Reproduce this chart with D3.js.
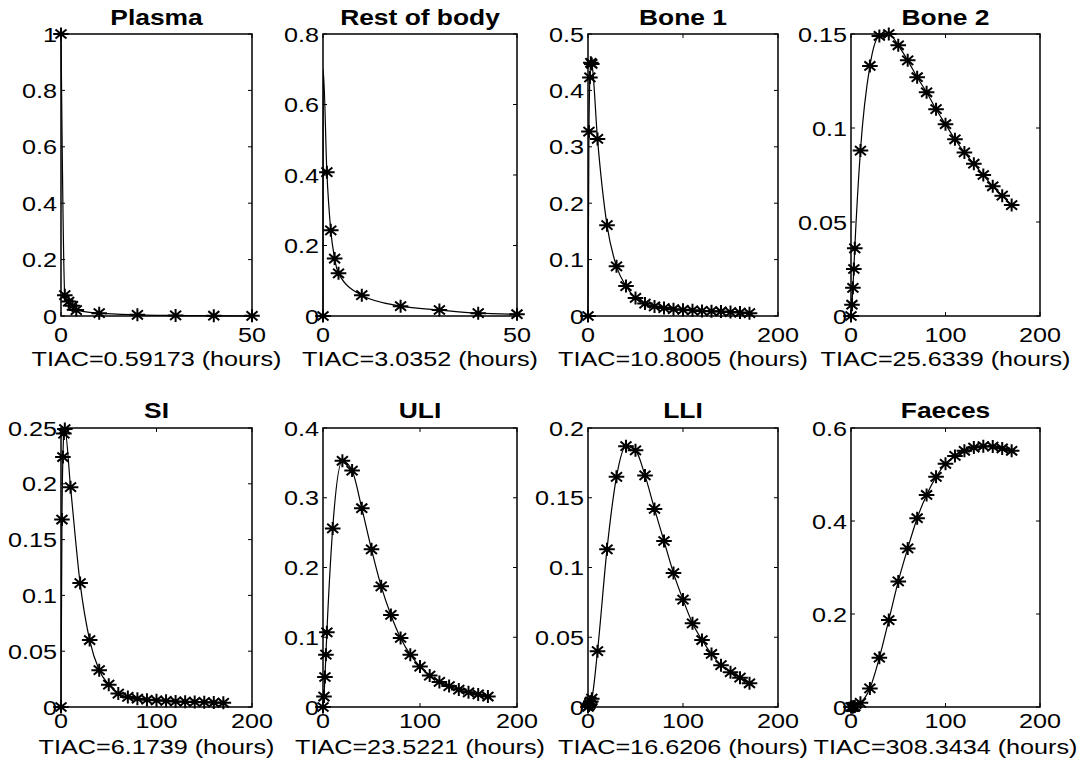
<!DOCTYPE html>
<html lang="en">
<head>
<meta charset="UTF-8">
<title>TIAC</title>
<script src="https://cdn.jsdelivr.net/npm/d3@7"></script>
<style>
    body { margin: 0; background: #fff; }
    text { font-family: "Liberation Sans", Arial, sans-serif; fill: #000; }
</style>
</head>
<body>
<script type="text/javascript">
    var width = 1090;
    var height = 770;

    // sample times (hours)
    var timesShort = [0, 1, 2, 3, 4, 10, 20, 30, 40, 50];
    var timesLong = [0, 1, 2, 3, 4, 10, 20, 30, 40, 50, 60, 70, 80, 90, 100, 110, 120, 130, 140, 150, 160, 170];

    var titles = ["Plasma", "Rest of body", "Bone 1", "Bone 2", "SI", "ULI", "LLI", "Faeces"];
    var tiacLabels = ["TIAC=0.59173 (hours)", "TIAC=3.0352 (hours)", "TIAC=10.8005 (hours)", "TIAC=25.6339 (hours)",
        "TIAC=6.1739 (hours)", "TIAC=23.5221 (hours)", "TIAC=16.6206 (hours)", "TIAC=308.3434 (hours)"];

    var plasma = [1, 0.074, 0.051, 0.036, 0.021, 0.010, 0.004, 0.002, 0.001, 0.0005];
    var restOfBody = [0, 0.408, 0.243, 0.163, 0.121, 0.059, 0.028, 0.017, 0.008, 0.005];
    // the solver curve peaks just after t=0, before the first marker
    var restOfBodyPeak = [0.05, 0.7];
    var bone1 = [0, 0.327, 0.423, 0.449, 0.447, 0.314, 0.161, 0.088, 0.053, 0.032, 0.022, 0.017, 0.014,
        0.012, 0.011, 0.010, 0.009, 0.0085, 0.008, 0.007, 0.006, 0.005];
    var bone2 = [0, 0.006, 0.015, 0.025, 0.036, 0.088, 0.133, 0.149, 0.150, 0.144, 0.136, 0.127, 0.119,
        0.110, 0.102, 0.094, 0.087, 0.081, 0.075, 0.069, 0.064, 0.059];
    var si = [0, 0.168, 0.224, 0.245, 0.249, 0.197, 0.111, 0.060, 0.033, 0.020, 0.012, 0.009, 0.0075,
        0.0065, 0.006, 0.0055, 0.005, 0.0048, 0.0045, 0.0043, 0.004, 0.0038];
    var uli = [0, 0.015, 0.043, 0.075, 0.107, 0.256, 0.353, 0.339, 0.285, 0.226, 0.173, 0.132, 0.099,
        0.075, 0.058, 0.045, 0.036, 0.030, 0.025, 0.021, 0.018, 0.015];
    var lli = [0, 0.001, 0.002, 0.004, 0.006, 0.040, 0.113, 0.165, 0.187, 0.184, 0.166, 0.142, 0.119,
        0.096, 0.077, 0.060, 0.048, 0.038, 0.030, 0.025, 0.021, 0.017];
    var faeces = [0, 0, 0, 0.0005, 0.001, 0.009, 0.040, 0.106, 0.187, 0.270, 0.341, 0.406, 0.456,
        0.495, 0.523, 0.540, 0.551, 0.558, 0.561, 0.560, 0.556, 0.551];

    var yMax = [1, 0.8, 0.5, 0.15, 0.25, 0.4, 0.2, 0.6];
    var yTicks = [
        [0, 0.2, 0.4, 0.6, 0.8, 1],
        [0, 0.2, 0.4, 0.6, 0.8],
        [0, 0.1, 0.2, 0.3, 0.4, 0.5],
        [0, 0.05, 0.1, 0.15],
        [0, 0.05, 0.1, 0.15, 0.2, 0.25],
        [0, 0.1, 0.2, 0.3, 0.4],
        [0, 0.05, 0.1, 0.15, 0.2],
        [0, 0.2, 0.4, 0.6]
    ];
    var xMax = [50, 50, 200, 200, 200, 200, 200, 200];
    var xTicksShort = [0, 50];
    var xTicksLong = [0, 100, 200];

    var series = [plasma, restOfBody, bone1, bone2, si, uli, lli, faeces];

    // layout of the 2 x 4 grid
    var colLeft = [61, 323, 588, 851];
    var colRight = [252, 517, 778, 1040];
    var rowTop = [34, 428];
    var rowBottom = [316, 707];
    var titleBase = [25, 418];
    var xLabelBase = [342, 728];
    var tiacBase = [366, 754];
    var stretch = 1.2;   // the picture's text is widened horizontally
    var tickLen = 4;

    var svg = d3.select('body').append('svg')
            .attr('width', width)
            .attr('height', height);

    function label(g, x, y, str, anchor, size, weight) {
        return g.append('text')
                .attr('transform', 'translate(' + x + ',' + y + ') scale(' + stretch + ',1)')
                .attr('text-anchor', anchor)
                .attr('font-size', size)
                .attr('font-weight', weight || 'normal')
                .text(str);
    }

    var fmt = d3.format('~g');
    var star = 'M-7.8,0H7.8M0,-6.5V6.5M-5.5,-4.6L5.5,4.6M-5.5,4.6L5.5,-4.6';

    series.forEach(function (vals, i) {
        var col = i % 4, row = Math.floor(i / 4);
        var times = xMax[i] === 50 ? timesShort : timesLong;
        var xTicks = xMax[i] === 50 ? xTicksShort : xTicksLong;
        var x0 = colLeft[col], x1 = colRight[col];
        var y0 = rowBottom[row], y1 = rowTop[row];

        var x = d3.scaleLinear().domain([0, xMax[i]]).range([x0, x1]);
        var y = d3.scaleLinear().domain([0, yMax[i]]).range([y0, y1]);

        var g = svg.append('g');

        var pts = times.map(function (t, k) { return [t, vals[k]]; });
        var linePts = pts.slice();
        if (vals === restOfBody) {
            linePts.splice(1, 0, restOfBodyPeak);
        }

        // box
        g.append('rect')
                .attr('x', x0).attr('y', y1)
                .attr('width', x1 - x0).attr('height', y0 - y1)
                .attr('fill', 'none')
                .attr('stroke', '#000')
                .attr('stroke-width', 1.5);

        // y ticks, both sides, pointing in
        yTicks[i].forEach(function (v) {
            var yy = y(v);
            g.append('line').attr('x1', x0).attr('x2', x0 + tickLen).attr('y1', yy).attr('y2', yy)
                    .attr('stroke', '#000').attr('stroke-width', 1);
            g.append('line').attr('x1', x1).attr('x2', x1 - tickLen).attr('y1', yy).attr('y2', yy)
                    .attr('stroke', '#000').attr('stroke-width', 1);
            label(g, x0 - 4, yy + 7.5, fmt(v), 'end', 21);
        });

        // x ticks, top and bottom
        xTicks.forEach(function (v) {
            var xx = x(v);
            g.append('line').attr('x1', xx).attr('x2', xx).attr('y1', y0).attr('y2', y0 - tickLen)
                    .attr('stroke', '#000').attr('stroke-width', 1);
            g.append('line').attr('x1', xx).attr('x2', xx).attr('y1', y1).attr('y2', y1 + tickLen)
                    .attr('stroke', '#000').attr('stroke-width', 1);
            label(g, xx, xLabelBase[row], fmt(v), 'middle', 21);
        });

        var line = d3.line()
                .x(function (d) { return x(d[0]); })
                .y(function (d) { return y(d[1]); })
                .curve(d3.curveMonotoneX);

        g.append('path')
                .attr('d', line(linePts))
                .attr('fill', 'none')
                .attr('stroke', '#000')
                .attr('stroke-width', 1.2);

        g.selectAll('path.mk')
                .data(pts)
                .enter()
                .append('path')
                .attr('class', 'mk')
                .attr('transform', function (d) {
                    return 'translate(' + x(d[0]) + ',' + y(d[1]) + ')';
                })
                .attr('d', star)
                .attr('fill', 'none')
                .attr('stroke', '#000')
                .attr('stroke-width', 2);

        var cx = (x0 + x1) / 2;
        label(g, cx, titleBase[row], titles[i], 'middle', 22, 'bold');
        label(g, cx, tiacBase[row], tiacLabels[i], 'middle', 21);
    });
</script>
</body>
</html>
